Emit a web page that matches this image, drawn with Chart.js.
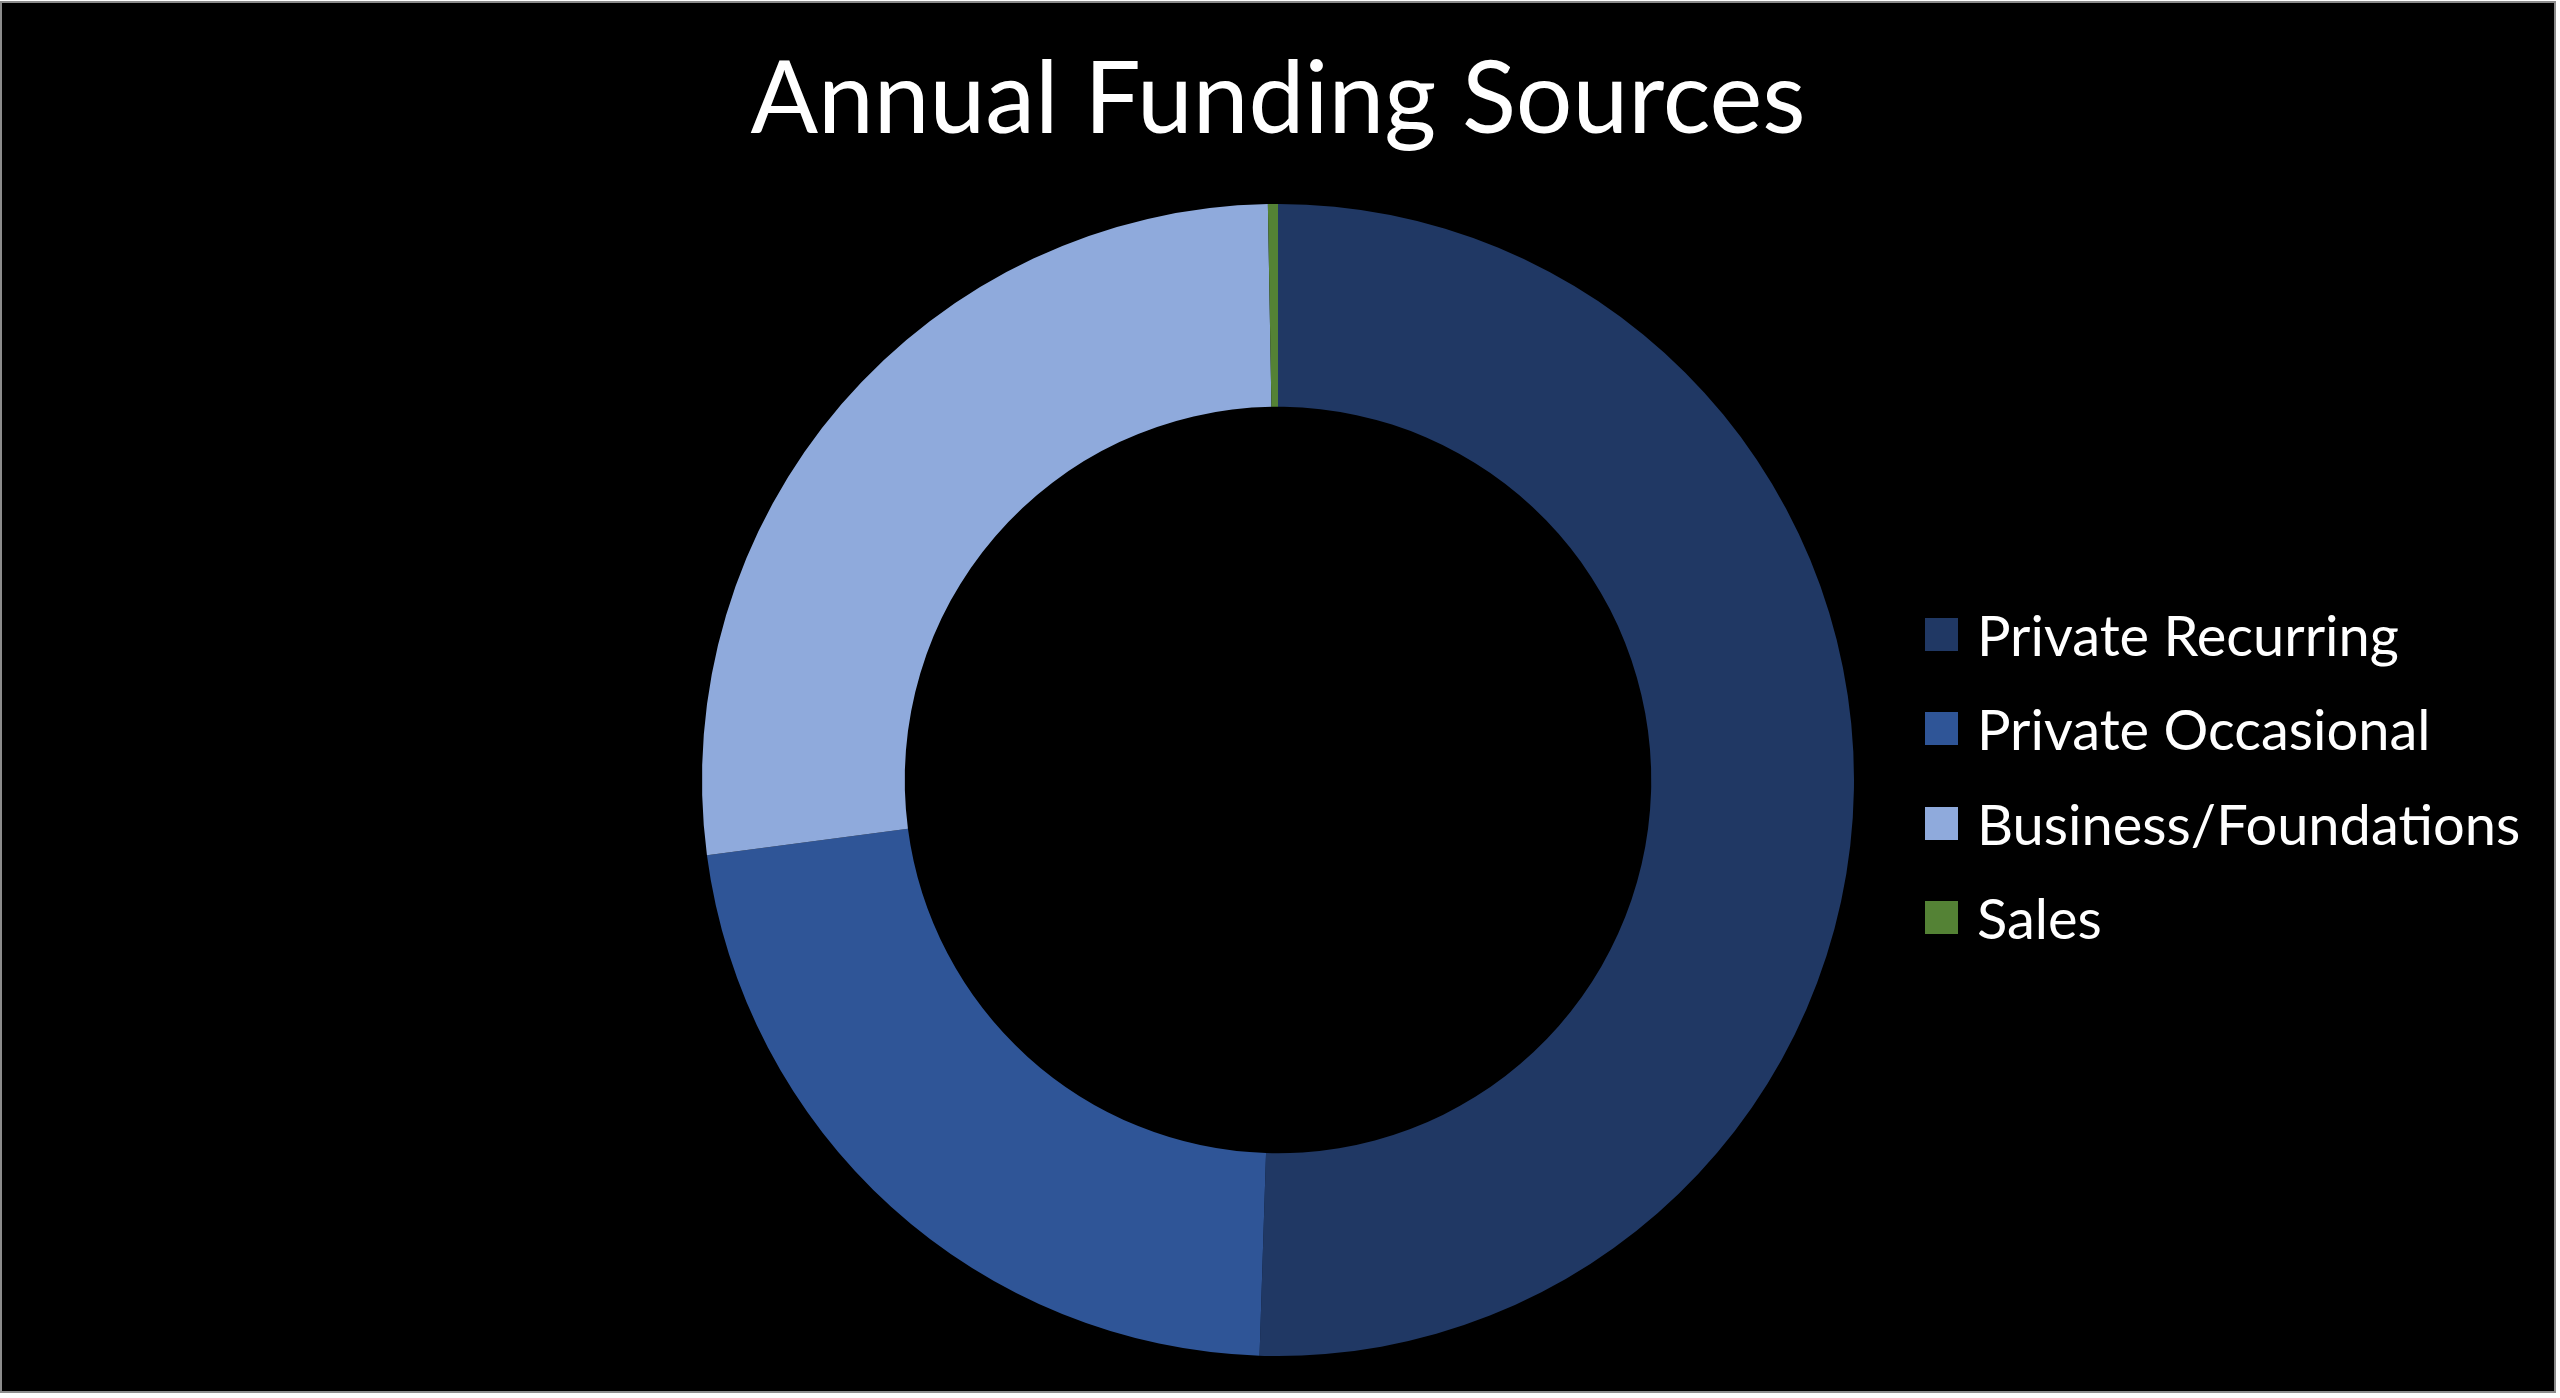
<!DOCTYPE html>
<html>
<head>
<meta charset="utf-8">
<script src="https://cdn.jsdelivr.net/npm/chart.js@4.4.1/dist/chart.umd.min.js"></script>
<style>
  html, body { margin: 0; padding: 0; background: #ffffff; overflow: hidden; }
  #frame {
    position: absolute; left: 0; top: 1px;
    width: 2552px; height: 1388px;
    border: 2px solid #8c8c8c;
    background: #000000;
  }
  #frame canvas { display: block; }
  #leyenda {
    position: absolute; left: 1923px; top: 584px;
    margin: 0; padding: 0; list-style: none;
    font-family: 'Lato', sans-serif; font-size: 56px; color: #ffffff;
  }
  #leyenda li { display: flex; align-items: center; height: 94.5px; white-space: nowrap; }
  #leyenda .caja { display: inline-block; width: 33px; height: 33px; margin-right: 19px; }
</style>
</head>
<body>
<div id="frame"><canvas id="graficoFondos"></canvas><ul id="leyenda"></ul></div>
<script>
// datos (porcentaje del total anual)
const categorias = ['Private Recurring', 'Private Occasional', 'Business/Foundations', 'Sales'];
const valores = [50.5, 22.4, 26.8, 0.28];
const colores = ['#203864', '#2F5597', '#8FAADC', '#548235'];

// leyenda en HTML construida con las etiquetas que genera Chart.js
const leyendaHtml = {
    id: 'leyendaHtml',
    afterUpdate(chart) {
        const ul = document.getElementById('leyenda');
        ul.innerHTML = '';
        const items = chart.options.plugins.legend.labels.generateLabels(chart);
        items.forEach(item => {
            const li = document.createElement('li');
            const caja = document.createElement('span');
            caja.className = 'caja';
            caja.style.background = item.fillStyle;
            li.appendChild(caja);
            li.appendChild(document.createTextNode(item.text));
            ul.appendChild(li);
        });
    }
};

function renderizarGrafico() {
    const ctx = document.getElementById('graficoFondos').getContext('2d');

    if (window.miGrafico) window.miGrafico.destroy();

    window.miGrafico = new Chart(ctx, {
        type: 'doughnut',
        data: {
            labels: categorias,
            datasets: [{
                data: valores,
                backgroundColor: colores,
                borderWidth: 0,
                hoverOffset: 0
            }]
        },
        options: {
            responsive: true,
            maintainAspectRatio: false,
            animation: false,
            cutout: '64.8%',
            radius: 576,
            layout: {
                padding: { left: 0, right: 0, top: 0, bottom: 12 }
            },
            plugins: {
                title: {
                    display: true,
                    text: 'Annual Funding Sources',
                    color: '#ffffff',
                    font: { family: 'Lato', size: 100, weight: 'normal' },
                    padding: { top: 38, bottom: 20 }
                },
                legend: { display: false },
                tooltip: { enabled: false }
            }
        },
        plugins: [leyendaHtml]
    });
}

renderizarGrafico();
</script>
</body>
</html>
